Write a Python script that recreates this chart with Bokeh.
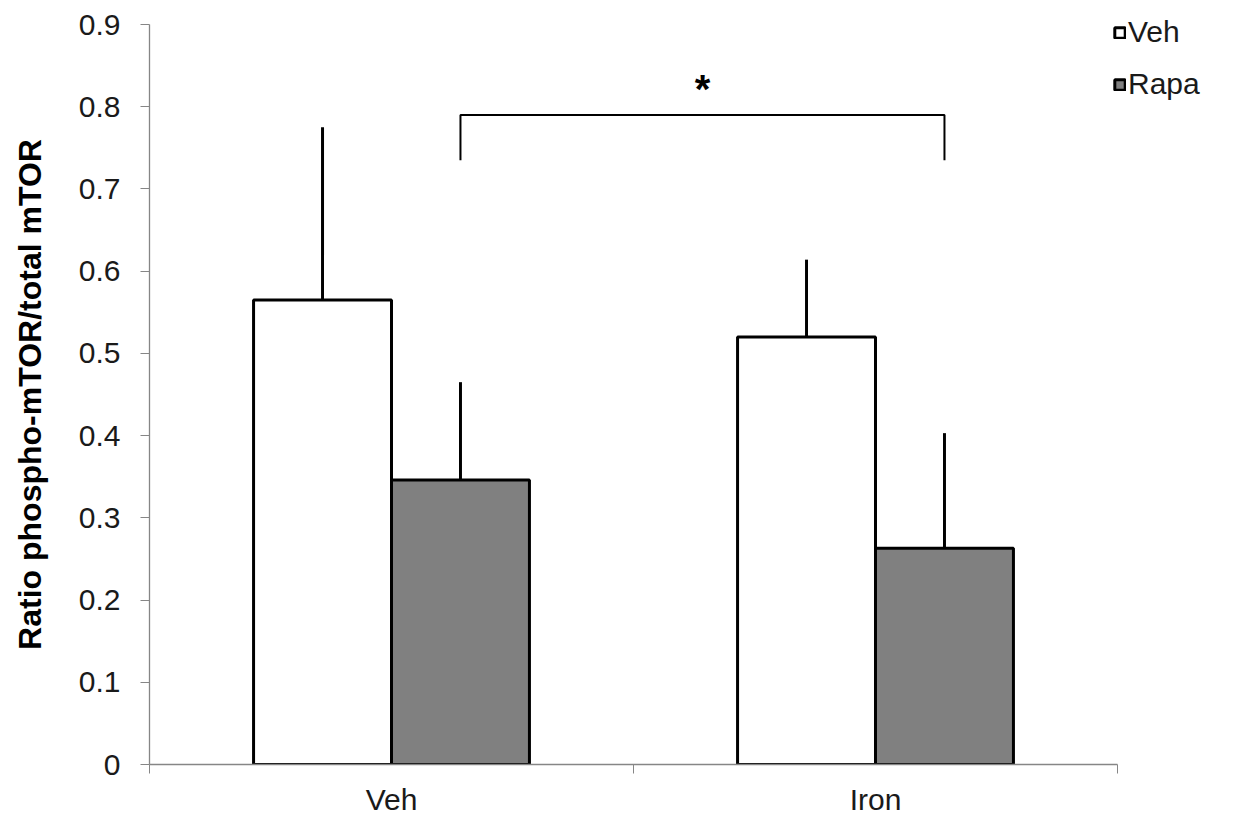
from bokeh.plotting import figure
from bokeh.models import (Range1d, FixedTicker, CustomJSTickFormatter, Legend, LegendItem,
                          ColumnDataSource)
from bokeh.core.properties import value
from bokeh.embed import file_html
from bokeh.resources import INLINE

# ---- data ----
categories = ["Veh", "Iron"]
veh_means = [0.565, 0.520]
veh_err = [0.210, 0.094]
rapa_means = [0.346, 0.263]
rapa_err = [0.119, 0.140]
series_names = ["Veh", "Rapa"]
y_ticks = [0, 0.1, 0.2, 0.3, 0.4, 0.5, 0.6, 0.7, 0.8, 0.9]
sig_label = "*"
sig_top = 0.79
sig_leg = 0.735
sig_text_y = 0.822

FONT = "Liberation Sans"
AXIS_GRAY = "#868686"

FRAME_W, FRAME_H = 968, 740
bar_w = 0.285
offsets = [-bar_w / 2, bar_w / 2]
centers = [i + 0.5 for i in range(len(categories))]

p = figure(output_backend="svg", toolbar_location=None,
           frame_width=FRAME_W, frame_height=FRAME_H,
           x_range=Range1d(0, len(categories)), y_range=Range1d(0, 0.9),
           min_border_left=149, min_border_top=24, min_border_right=114,
           min_border_bottom=40)
p.outline_line_color = None
p.xgrid.visible = False
p.ygrid.visible = False
p.background_fill_color = "white"
p.border_fill_color = "white"

fills = ["white", "#808080"]
renderers = []
for s, (means, errs) in enumerate([(veh_means, veh_err), (rapa_means, rapa_err)]):
    xs = [c + offsets[s] for c in centers]
    src = ColumnDataSource(dict(x=xs, top=means, err_top=[m + e for m, e in zip(means, errs)]))
    r = p.vbar(x="x", top="top", bottom=0, width=bar_w, source=src,
               fill_color=fills[s], line_color="black", line_width=3)
    p.segment(x0="x", y0="top", x1="x", y1="err_top", source=src,
              line_color="black", line_width=3)
    renderers.append(r)

# significance bracket between Rapa bars
x1 = centers[0] + offsets[1]
x2 = centers[1] + offsets[1]
p.line(x=[x1, x1, x2, x2], y=[sig_leg, sig_top, sig_top, sig_leg],
       line_color="black", line_width=2)
p.text(x=[(x1 + x2) / 2], y=[sig_text_y], text=[sig_label],
       text_font=value(FONT), text_font_size="40px", text_font_style="bold",
       text_align="center", text_baseline="middle", text_color="black")

# axes
xa = p.xaxis[0]
xa.ticker = FixedTicker(ticks=centers, minor_ticks=list(range(len(categories) + 1)))
xa.major_label_overrides = {c: lab for c, lab in zip(centers, categories)}
xa.major_tick_line_color = None
xa.major_tick_out = 0
xa.minor_tick_out = 9
xa.minor_tick_in = 0
xa.minor_tick_line_color = AXIS_GRAY
xa.axis_line_color = AXIS_GRAY
xa.axis_line_width = 1.3
xa.major_label_text_font = FONT
xa.major_label_text_font_size = "30px"
xa.major_label_text_color = "#1a1a1a"
xa.major_label_standoff = 9

ya = p.yaxis[0]
ya.ticker = FixedTicker(ticks=y_ticks)
ya.formatter = CustomJSTickFormatter(code="return tick == 0 ? '0' : tick.toFixed(1);")
ya.major_tick_out = 9
ya.major_tick_in = 0
ya.minor_tick_line_color = None
ya.major_tick_line_color = AXIS_GRAY
ya.axis_line_color = AXIS_GRAY
ya.axis_line_width = 1.3
ya.major_label_text_font = FONT
ya.major_label_text_font_size = "30px"
ya.major_label_text_color = "#1a1a1a"
ya.major_label_standoff = 20
ya.axis_label = "Ratio phospho-mTOR/total mTOR"
ya.axis_label_text_font = FONT
ya.axis_label_text_font_size = "32px"
ya.axis_label_text_font_style = "bold"
ya.axis_label_text_color = "black"
ya.axis_label_standoff = 28

legend = Legend(items=[LegendItem(label=n, renderers=[r]) for n, r in zip(series_names, renderers)],
                location=(-4, FRAME_H - 77), orientation="vertical")
legend.label_text_font = FONT
legend.label_text_font_size = "30px"
legend.label_text_color = "#1a1a1a"
legend.glyph_width = 13
legend.glyph_height = 13
legend.label_standoff = 2
legend.spacing = 18
legend.padding = 0
legend.margin = 0
legend.border_line_color = None
legend.background_fill_alpha = 0
p.add_layout(legend, "right")

open("out.html", "w").write(file_html(p, INLINE))
